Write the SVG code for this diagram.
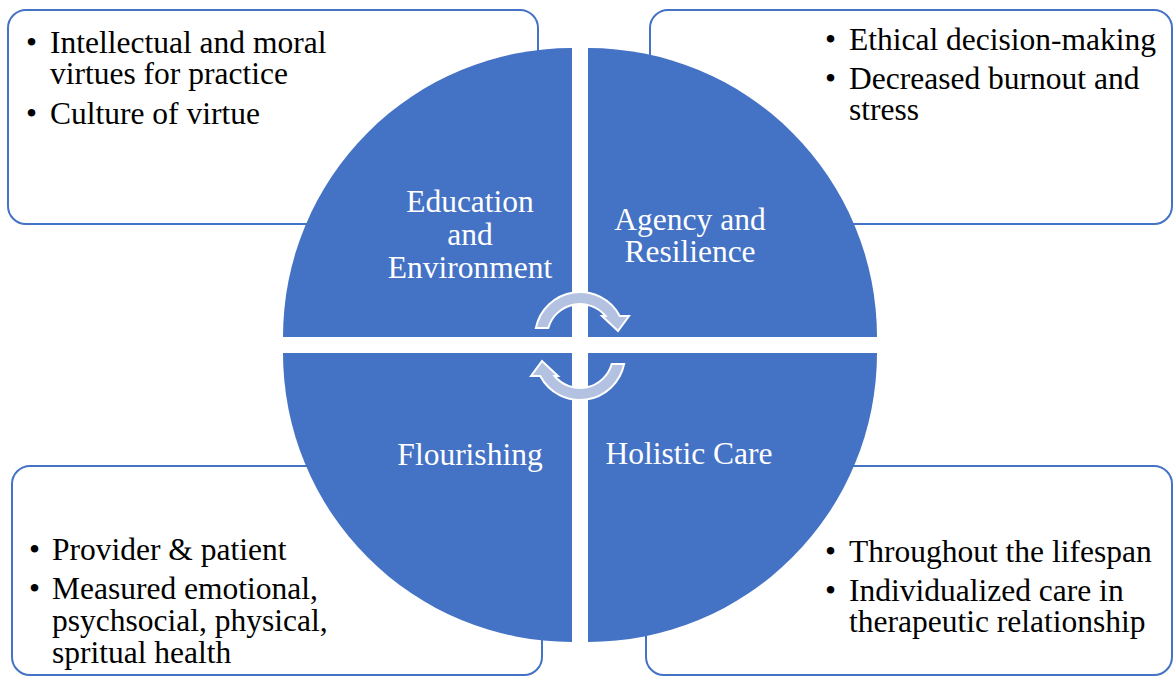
<svg xmlns="http://www.w3.org/2000/svg" width="1174" height="677" viewBox="0 0 1174 677">
  <style>
    .box { fill: #FFFFFF; stroke: #4472C4; stroke-width: 2; }
    .pie { fill: #4472C4; }
    .cyc { fill: #B4C2E2; stroke: #FFFFFF; stroke-width: 2; stroke-linejoin: miter; }
    .bul { font-family: "Liberation Serif", "Times New Roman", serif; font-size: 31.5px; fill: #000000; }
    .lbl { font-family: "Liberation Serif", "Times New Roman", serif; font-size: 31.5px; fill: #FFFFFF; text-anchor: middle; }
  </style>
  <defs>
    <path id="cycArrow" d="M 535.9 328 A 45 45 0 0 1 619.8 316 L 629 316 L 618 331 L 602 316 L 605.5 316 A 33 33 0 0 0 548.3 328 Z"/>
  </defs>
  <rect width="1174" height="677" fill="#FFFFFF"/>

  <!-- detail boxes (sit behind the quadrants) -->
  <g id="box-education">
    <rect class="box" x="8" y="10" width="530" height="214" rx="18"/>
    <text class="bul" x="26" y="53">•</text>
    <text class="bul" x="50" y="53">Intellectual and moral</text>
    <text class="bul" x="50" y="84">virtues for practice</text>
    <text class="bul" x="26" y="124">•</text>
    <text class="bul" x="50" y="124">Culture of virtue</text>
  </g>
  <g id="box-agency">
    <rect class="box" x="650" y="10" width="522" height="214" rx="18"/>
    <text class="bul" x="825" y="50">•</text>
    <text class="bul" x="849" y="50">Ethical decision-making</text>
    <text class="bul" x="825" y="89">•</text>
    <text class="bul" x="849" y="89">Decreased burnout and</text>
    <text class="bul" x="849" y="120">stress</text>
  </g>
  <g id="box-flourishing">
    <rect class="box" x="12" y="466" width="530" height="209" rx="18"/>
    <text class="bul" x="29" y="560">•</text>
    <text class="bul" x="52" y="560">Provider &amp; patient</text>
    <text class="bul" x="29" y="599">•</text>
    <text class="bul" x="52" y="599">Measured emotional,</text>
    <text class="bul" x="52" y="631">psychsocial, physical,</text>
    <text class="bul" x="52" y="663">spritual health</text>
  </g>
  <g id="box-holistic">
    <rect class="box" x="646" y="466" width="526" height="209" rx="18"/>
    <text class="bul" x="825" y="562">•</text>
    <text class="bul" x="849" y="562">Throughout the lifespan</text>
    <text class="bul" x="825" y="601">•</text>
    <text class="bul" x="849" y="601">Individualized care in</text>
    <text class="bul" x="849" y="632">therapeutic relationship</text>
  </g>

  <!-- four quadrants of the cycle -->
  <g id="q-education">
    <path class="pie" d="M 572 337 L 283 337 A 289 289 0 0 1 572 48 Z"/>
    <text class="lbl" x="470" y="212">Education</text>
    <text class="lbl" x="470" y="245">and</text>
    <text class="lbl" x="470" y="278">Environment</text>
  </g>
  <g id="q-agency">
    <path class="pie" d="M 588 337 L 588 48 A 289 289 0 0 1 877 337 Z"/>
    <text class="lbl" x="690" y="230">Agency and</text>
    <text class="lbl" x="690" y="262">Resilience</text>
  </g>
  <g id="q-holistic">
    <path class="pie" d="M 588 353 L 877 353 A 289 289 0 0 1 588 642 Z"/>
    <text class="lbl" x="689" y="464">Holistic Care</text>
  </g>
  <g id="q-flourishing">
    <path class="pie" d="M 572 353 L 572 642 A 289 289 0 0 1 283 353 Z"/>
    <text class="lbl" x="470" y="465">Flourishing</text>
  </g>

  <!-- cycle arrows in the centre -->
  <g id="connectors">
    <use href="#cycArrow" class="cyc"/>
    <use href="#cycArrow" class="cyc" transform="rotate(180 580 346)"/>
  </g>
</svg>
